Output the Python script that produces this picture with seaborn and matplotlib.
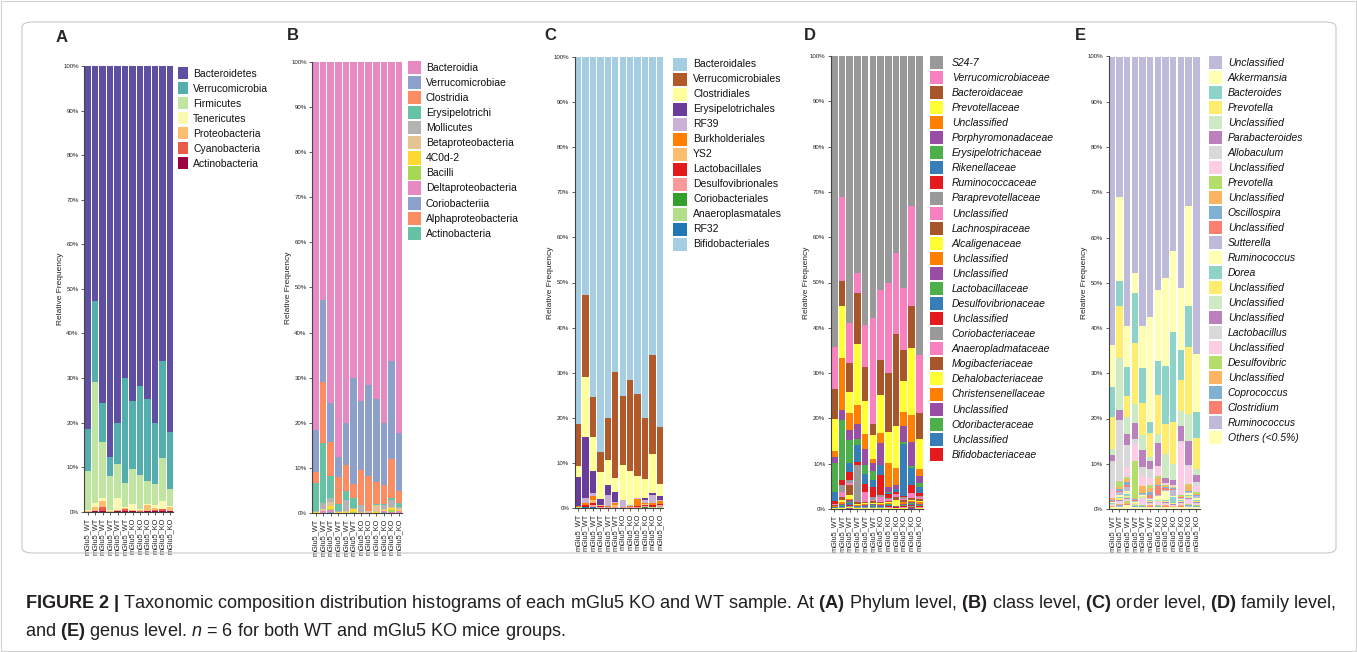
import matplotlib
matplotlib.use("Agg")
import matplotlib.pyplot as plt
from matplotlib.patches import Patch, FancyBboxPatch, Rectangle
import numpy as np
import seaborn as sns

# ---- samples -------------------------------------------------------------
sample_ids = ["WT1", "WT2", "WT3", "WT4", "WT5", "WT6",
              "KO1", "KO2", "KO3", "KO4", "KO5", "KO6"]
sample_labels = ["mGlu5_WT"] * 6 + ["mGlu5_KO"] * 6
y_ticks = [0, 10, 20, 30, 40, 50, 60, 70, 80, 90, 100]

# ---- A: phylum -----------------------------------------------------------
phylum_names = ["Bacteroidetes", "Verrucomicrobia", "Firmicutes", "Tenericutes",
                "Proteobacteria", "Cyanobacteria", "Actinobacteria"]
phylum_colors = ["#5e4fa2", "#54aead", "#bfe5a0", "#fbf8b0", "#fdbe6f", "#e95c47", "#9e0142"]
phylum_values = [
    [81.5, 52.7, 75.5, 87.7, 80.0, 70.0, 75.2, 71.7, 74.8, 80.0, 66.2, 82.1],
    [9.4, 18.3, 8.8, 4.3, 9.3, 23.5, 15.3, 20.0, 18.2, 13.8, 21.8, 12.8],
    [8.8, 27.0, 12.7, 7.7, 7.7, 5.5, 7.7, 7.8, 5.3, 4.7, 9.6, 3.9],
    [0.1, 1.0, 0.7, 0.1, 2.6, 0.2, 1.5, 0.1, 0.1, 0.6, 1.7, 0.1],
    [0.2, 0.9, 1.3, 0.2, 0.3, 0.2, 0.2, 0.35, 1.5, 0.5, 0.2, 1.0],
    [0.0, 0.05, 0.9, 0.0, 0.05, 0.5, 0.05, 0.05, 0.05, 0.2, 0.4, 0.05],
    [0.0, 0.05, 0.1, 0.0, 0.05, 0.1, 0.05, 0.0, 0.05, 0.2, 0.1, 0.05],
]

# ---- B: class ------------------------------------------------------------
class_names = ["Bacteroidia", "Verrucomicrobiae", "Clostridia", "Erysipelotrichi",
               "Mollicutes", "Betaproteobacteria", "4C0d-2", "Bacilli",
               "Deltaproteobacteria", "Coriobacteriia", "Alphaproteobacteria",
               "Actinobacteria"]
class_colors = ["#e78ac3", "#8da0cb", "#fc8d62", "#66c2a5", "#b3b3b3", "#e5c494",
                "#ffd92f", "#a6d854", "#e78ac3", "#8da0cb", "#fc8d62", "#66c2a5"]
class_values = [
    [81.5, 52.7, 75.5, 87.7, 80.0, 70.0, 75.2, 71.7, 74.8, 80.0, 66.2, 82.1],
    [9.3, 18.3, 8.8, 4.3, 9.3, 23.5, 15.3, 20.0, 18.2, 13.8, 21.8, 12.8],
    [2.6, 13.5, 7.5, 6.1, 5.7, 3.1, 7.7, 7.8, 4.9, 4.1, 8.7, 2.8],
    [6.2, 13.3, 4.9, 1.6, 2.0, 2.2, 0.05, 0.05, 0.2, 0.3, 0.3, 0.7],
    [0.1, 1.2, 0.8, 0.1, 2.6, 0.2, 1.5, 0.05, 0.1, 0.8, 1.6, 0.4],
    [0.1, 0.4, 0.8, 0.1, 0.2, 0.1, 0.1, 0.3, 1.6, 0.3, 0.2, 0.3],
    [0.05, 0.1, 0.8, 0.05, 0.1, 0.7, 0.05, 0.05, 0.1, 0.2, 0.4, 0.3],
    [0.05, 0.1, 0.1, 0.05, 0.05, 0.1, 0.05, 0.05, 0.05, 0.1, 0.6, 0.1],
    [0.05, 0.4, 0.6, 0.1, 0.05, 0.1, 0.05, 0.0, 0.05, 0.2, 0.1, 0.3],
    [0.02, 0.0, 0.1, 0.0, 0.0, 0.0, 0.0, 0.0, 0.0, 0.2, 0.1, 0.1],
    [0.02, 0.0, 0.05, 0.0, 0.0, 0.0, 0.0, 0.0, 0.0, 0.0, 0.0, 0.0],
    [0.02, 0.0, 0.05, 0.0, 0.0, 0.0, 0.0, 0.0, 0.0, 0.0, 0.0, 0.0],
]

# ---- C: order ------------------------------------------------------------
order_names = ["Bacteroidales", "Verrucomicrobiales", "Clostridiales",
               "Erysipelotrichales", "RF39", "Burkholderiales", "YS2",
               "Lactobacillales", "Desulfovibrionales", "Coriobacteriales",
               "Anaeroplasmatales", "RF32", "Bifidobacteriales"]
order_colors = ["#a6cee3", "#b15928", "#ffff99", "#6a3d9a", "#cab2d6", "#ff7f00",
                "#fdbf6f", "#e31a1c", "#fb9a99", "#33a02c", "#b2df8a", "#1f78b4",
                "#a6cee3"]
order_values = [
    [81.5, 52.7, 75.5, 87.7, 80.0, 70.0, 75.3, 71.7, 74.8, 80.1, 66.2, 82.1],
    [9.4, 18.3, 8.9, 4.4, 9.4, 23.5, 15.3, 20.1, 18.2, 13.7, 21.8, 12.8],
    [2.4, 13.4, 7.5, 6.0, 5.6, 3.2, 7.7, 7.7, 5.0, 4.1, 8.7, 2.7],
    [6.4, 13.5, 4.9, 1.4, 2.1, 2.2, 0.05, 0.05, 0.05, 0.5, 0.5, 0.7],
    [0.05, 1.1, 0.7, 0.05, 2.5, 0.1, 1.5, 0.05, 0.05, 0.6, 1.8, 0.4],
    [0.1, 0.4, 0.7, 0.05, 0.2, 0.5, 0.1, 0.3, 1.6, 0.2, 0.3, 0.5],
    [0.05, 0.1, 0.8, 0.05, 0.05, 0.4, 0.05, 0.05, 0.05, 0.3, 0.1, 0.1],
    [0.05, 0.3, 0.3, 0.2, 0.1, 0.1, 0.05, 0.05, 0.3, 0.3, 0.4, 0.2],
    [0.05, 0.1, 0.5, 0.25, 0.05, 0.1, 0.05, 0.05, 0.05, 0.2, 0.1, 0.5],
    [0.02, 0.05, 0.1, 0.0, 0.0, 0.0, 0.0, 0.0, 0.0, 0.1, 0.05, 0.05],
    [0.02, 0.05, 0.05, 0.0, 0.0, 0.0, 0.0, 0.0, 0.0, 0.0, 0.05, 0.05],
    [0.02, 0.05, 0.05, 0.0, 0.0, 0.0, 0.0, 0.0, 0.0, 0.0, 0.0, 0.0],
    [0.02, 0.0, 0.0, 0.0, 0.0, 0.0, 0.0, 0.0, 0.0, 0.0, 0.0, 0.0],
]

# ---- D: family -----------------------------------------------------------
family_names = ["S24-7", "Verrucomicrobiaceae", "Bacteroidaceae", "Prevotellaceae",
                "Unclassified", "Porphyromonadaceae", "Erysipelotrichaceae",
                "Rikenellaceae", "Ruminococcaceae", "Paraprevotellaceae",
                "Unclassified", "Lachnospiraceae", "Alcaligenaceae", "Unclassified",
                "Unclassified", "Lactobacillaceae", "Desulfovibrionaceae",
                "Unclassified", "Coriobacteriaceae", "Anaeropladmataceae",
                "Mogibacteriaceae", "Dehalobacteriaceae", "Christensenellaceae",
                "Unclassified", "Odoribacteraceae", "Unclassified",
                "Bifidobacteriaceae"]
family_colors = ["#999999", "#f781bf", "#a65628", "#ffff33", "#ff7f00", "#984ea3",
                 "#4daf4a", "#377eb8", "#e41a1c"] * 3
family_values = [
    [64.2, 31.1, 59.0, 48.0, 59.4, 57.9, 51.7, 50.4, 43.5, 51.5, 33.1, 66.3],
    [9.4, 18.5, 8.9, 4.4, 9.2, 23.4, 15.5, 20.1, 18.1, 13.8, 22.0, 12.8],
    [6.5, 5.6, 6.3, 11.2, 7.6, 2.5, 7.7, 13.0, 20.2, 6.8, 9.1, 5.8],
    [7.1, 11.4, 4.6, 13.5, 7.2, 5.4, 8.5, 6.9, 9.3, 6.9, 14.8, 6.8],
    [1.4, 11.6, 3.9, 4.1, 3.3, 0.8, 2.1, 5.5, 3.7, 3.2, 5.9, 1.4],
    [1.3, 2.1, 2.2, 3.5, 3.7, 1.9, 4.9, 1.1, 1.0, 3.4, 5.3, 1.5],
    [6.4, 13.4, 5.0, 1.3, 2.0, 2.0, 0.1, 0.05, 0.05, 0.5, 0.6, 1.0],
    [1.9, 0.05, 2.0, 3.7, 2.1, 1.5, 2.2, 0.4, 0.5, 11.5, 3.7, 1.4],
    [0.7, 1.1, 1.7, 0.7, 1.7, 2.2, 4.4, 0.9, 0.5, 0.4, 1.6, 0.6],
    [0.1, 1.5, 0.6, 8.1, 0.1, 0.6, 0.4, 0.2, 0.1, 0.3, 0.2, 0.3],
    [0.1, 1.0, 0.6, 0.1, 2.2, 0.3, 1.1, 0.3, 0.6, 0.3, 1.1, 0.4],
    [0.2, 0.7, 2.2, 0.3, 0.3, 0.3, 0.3, 0.3, 0.6, 0.3, 0.4, 0.4],
    [0.15, 0.5, 0.8, 0.2, 0.2, 0.2, 0.2, 0.2, 1.4, 0.2, 0.2, 0.3],
    [0.05, 0.4, 0.3, 0.2, 0.2, 0.2, 0.2, 0.2, 0.1, 0.3, 0.2, 0.3],
    [0.05, 0.2, 0.4, 0.1, 0.2, 0.1, 0.2, 0.1, 0.1, 0.2, 0.2, 0.2],
    [0.1, 0.2, 0.3, 0.1, 0.1, 0.2, 0.1, 0.2, 0.05, 0.2, 0.3, 0.2],
    [0.1, 0.2, 0.3, 0.1, 0.1, 0.2, 0.1, 0.2, 0.05, 0.2, 0.2, 0.2],
    [0.05, 0.1, 0.2, 0.1, 0.1, 0.1, 0.1, 0.2, 0.05, 0.1, 0.2, 0.1],
    [0.05, 0.1, 0.2, 0.1, 0.1, 0.1, 0.1, 0.1, 0.05, 0.1, 0.1, 0.1],
    [0.02, 0.1, 0.1, 0.05, 0.05, 0.1, 0.05, 0.1, 0.05, 0.1, 0.1, 0.1],
    [0.03, 0.05, 0.1, 0.05, 0.05, 0.05, 0.05, 0.1, 0.05, 0.1, 0.1, 0.1],
    [0.03, 0.05, 0.1, 0.05, 0.05, 0.05, 0.05, 0.05, 0.05, 0.05, 0.1, 0.05],
    [0.03, 0.05, 0.1, 0.05, 0.05, 0.05, 0.05, 0.05, 0.05, 0.05, 0.1, 0.05],
    [0.02, 0.02, 0.05, 0.02, 0.02, 0.02, 0.02, 0.02, 0.02, 0.02, 0.05, 0.02],
    [0.02, 0.02, 0.05, 0.02, 0.02, 0.02, 0.02, 0.02, 0.02, 0.02, 0.05, 0.02],
    [0.01, 0.01, 0.02, 0.01, 0.01, 0.01, 0.01, 0.01, 0.01, 0.01, 0.02, 0.01],
    [0.01, 0.01, 0.02, 0.01, 0.01, 0.01, 0.01, 0.01, 0.01, 0.01, 0.01, 0.01],
]

# ---- E: genus ------------------------------------------------------------
genus_names = ["Unclassified", "Akkermansia", "Bacteroides", "Prevotella",
               "Unclassified", "Parabacteroides", "Allobaculum", "Unclassified",
               "Prevotella", "Unclassified", "Oscillospira", "Unclassified",
               "Sutterella", "Ruminococcus", "Dorea", "Unclassified", "Unclassified",
               "Unclassified", "Lactobacillus", "Unclassified", "Desulfovibric",
               "Unclassified", "Coprococcus", "Clostridium", "Ruminococcus",
               "Others (<0.5%)"]
genus_colors = ["#bebada", "#ffffb3", "#8dd3c7", "#ffed6f", "#ccebc5", "#bc80bd",
                "#d9d9d9", "#fccde5", "#b3de69", "#fdb462", "#80b1d3", "#fb8072"] * 2 \
               + ["#bebada", "#ffffb3"]
genus_values = [
    [64.2, 31.1, 59.0, 48.0, 59.4, 57.9, 51.7, 50.4, 43.5, 51.5, 33.1, 66.3],
    [9.4, 18.5, 8.9, 4.4, 9.2, 23.4, 15.5, 20.1, 18.1, 13.8, 22.0, 12.8],
    [6.5, 5.6, 6.3, 11.2, 7.6, 2.5, 7.7, 13.0, 20.2, 6.8, 9.1, 5.8],
    [7.1, 11.4, 4.6, 13.5, 7.2, 5.4, 8.5, 6.9, 9.3, 6.9, 14.8, 6.8],
    [1.4, 11.6, 3.9, 4.1, 3.3, 0.8, 2.1, 5.5, 3.7, 3.2, 5.9, 1.4],
    [1.3, 2.1, 2.2, 3.5, 3.7, 1.9, 4.9, 1.1, 1.0, 3.4, 5.3, 1.5],
    [6.4, 13.4, 5.0, 1.3, 2.0, 2.0, 0.1, 0.05, 0.05, 0.5, 0.6, 1.0],
    [1.9, 0.05, 2.0, 3.7, 2.1, 1.5, 2.2, 0.4, 0.5, 11.5, 3.7, 1.4],
    [0.1, 1.5, 0.6, 8.1, 0.1, 0.6, 0.4, 0.2, 0.1, 0.3, 0.2, 0.3],
    [0.3, 0.4, 0.7, 0.3, 1.5, 1.0, 1.6, 0.3, 0.2, 0.2, 1.4, 0.2],
    [0.2, 0.5, 0.5, 0.2, 0.1, 0.6, 0.3, 0.3, 0.2, 0.1, 0.1, 0.2],
    [0.2, 0.2, 0.5, 0.2, 0.1, 0.6, 2.0, 0.3, 0.1, 0.1, 0.1, 0.2],
    [0.15, 0.5, 0.8, 0.2, 0.2, 0.2, 0.2, 0.2, 1.4, 0.2, 0.2, 0.3],
    [0.2, 0.5, 0.8, 0.2, 0.2, 0.3, 0.5, 2.2, 0.3, 0.3, 0.4, 0.4],
    [0.1, 0.3, 0.3, 0.1, 0.1, 0.2, 0.2, 0.2, 1.2, 0.2, 0.2, 0.3],
    [0.1, 0.3, 0.3, 0.1, 0.2, 0.2, 0.2, 0.2, 0.2, 0.2, 0.3, 0.2],
    [0.1, 0.2, 0.2, 0.1, 0.1, 0.1, 0.1, 0.1, 0.1, 0.1, 0.2, 0.1],
    [0.1, 0.2, 0.2, 0.1, 0.1, 0.1, 0.1, 0.1, 0.1, 0.1, 0.2, 0.1],
    [0.1, 0.2, 0.3, 0.1, 0.1, 0.2, 0.1, 0.2, 0.05, 0.2, 0.3, 0.2],
    [0.1, 0.3, 0.2, 0.1, 1.5, 0.2, 0.8, 0.2, 0.3, 0.2, 0.8, 0.3],
    [0.1, 0.2, 0.3, 0.1, 0.1, 0.2, 0.1, 0.2, 0.05, 0.2, 0.2, 0.2],
    [0.05, 0.1, 0.2, 0.1, 0.1, 0.1, 0.1, 0.1, 0.05, 0.1, 0.1, 0.1],
    [0.05, 0.2, 0.2, 0.1, 0.1, 0.1, 0.1, 0.1, 0.05, 0.1, 0.1, 0.1],
    [0.05, 0.1, 0.1, 0.05, 0.05, 0.1, 0.05, 0.1, 0.05, 0.1, 0.1, 0.05],
    [0.05, 0.1, 0.1, 0.05, 0.05, 0.1, 0.05, 0.1, 0.05, 0.1, 0.1, 0.05],
    [0.4, 0.5, 0.8, 0.4, 0.4, 0.4, 0.4, 0.4, 0.4, 0.4, 0.5, 0.4],
]

W, H = 1357, 652

sns.set_style("ticks")
plt.rcParams["font.family"] = ["Liberation Sans", "DejaVu Sans"]
plt.rcParams["mathtext.fontset"] = "custom"
plt.rcParams["mathtext.rm"] = "Liberation Sans"
plt.rcParams["mathtext.it"] = "Liberation Sans:italic"
plt.rcParams["mathtext.bf"] = "Liberation Sans:bold"

fig = plt.figure(figsize=(W / 100, H / 100), dpi=100)
fig.patch.set_facecolor("white")

LEG_FS = 7.5               # legend font size, pt
LEG_FS_PX = LEG_FS * 100 / 72


def px_rect(left, top, right, bottom):
    return [left / W, 1 - bottom / H, (right - left) / W, (bottom - top) / H]


def draw_panel(rect, names, colors, values, letter, letter_xy, leg_xy,
               patch_w, patch_h, pitch, text_gap, italic):
    ax = fig.add_axes(px_rect(*rect))
    vals = np.array(values, dtype=float)
    vals = vals / vals.sum(axis=0) * 100  # relative frequency
    # top edge of each taxon in the stack (first taxon sits on top)
    tops = vals[::-1].cumsum(axis=0)[::-1]
    for i in range(len(names)):
        sns.barplot(x=sample_ids, y=tops[i], order=sample_ids, color=colors[i],
                    saturation=1, width=0.86, linewidth=0, edgecolor="none",
                    errorbar=None, ax=ax)
    ax.set_xlim(-0.43, len(sample_ids) - 0.57)
    ax.set_ylim(0, 100)
    ax.set_yticks(y_ticks)
    ax.set_yticklabels([f"{v}%" for v in y_ticks], fontsize=4.4, color="#222222")
    ax.set_xticks(range(len(sample_ids)))
    ax.set_xticklabels(sample_labels, rotation=90, fontsize=5.3, color="#222222")
    ax.tick_params(axis="both", length=2.5, width=0.6, pad=1.5, color="#444444")
    ax.set_xlabel("")
    ax.set_ylabel("Relative Frequency", fontsize=6, color="#222222")
    width_px = rect[2] - rect[0]
    ax.yaxis.set_label_coords(-20.5 / width_px, 0.5)
    for s in ["top", "right"]:
        ax.spines[s].set_visible(False)
    for s in ["left", "bottom"]:
        ax.spines[s].set_color("#444444")
        ax.spines[s].set_linewidth(0.8)
    ax.grid(False)

    # legend patch geometry (matplotlib trims a descent off the handle box)
    hh = (patch_h / LEG_FS_PX - 0.245) / 0.65
    handles = [Patch(facecolor=c, edgecolor="none") for c in colors]
    leg = ax.legend(handles, names, loc="upper left",
                    bbox_to_anchor=(leg_xy[0] / W, 1 - leg_xy[1] / H),
                    bbox_transform=fig.transFigure, frameon=False,
                    fontsize=LEG_FS, borderpad=0, borderaxespad=0,
                    handlelength=patch_w / LEG_FS_PX, handleheight=hh,
                    handletextpad=text_gap / LEG_FS_PX,
                    labelspacing=(pitch - patch_h) / LEG_FS_PX)
    for t in leg.get_texts():
        t.set_color("#111111")
        if italic:
            t.set_fontstyle("italic")

    fig.text(letter_xy[0] / W, 1 - letter_xy[1] / H, letter, fontsize=12,
             fontweight="bold", ha="center", va="center")
    return ax


draw_panel((84.3, 66.0, 173.3, 511.7), phylum_names, phylum_colors, phylum_values,
           "A", (62, 38), (178.3, 67.3), 10, 12, 15.0, 5.0, False)
draw_panel((312.3, 61.7, 402.3, 513.3), class_names, class_colors, class_values,
           "B", (293, 36), (407.7, 60.6), 13.3, 13.3, 15.1, 5.0, False)
draw_panel((574.7, 57.3, 663.3, 507.7), order_names, order_colors, order_values,
           "C", (550, 35), (673, 57.5), 14, 13, 15.0, 6.0, False)
draw_panel((831.0, 56.0, 922.5, 509.0), family_names, family_colors, family_values,
           "D", (810, 35), (930, 55.8), 13.3, 13, 15.08, 8.5, True)
draw_panel((1108.5, 56.5, 1199.5, 509.0), genus_names, genus_colors, genus_values,
           "E", (1080, 35), (1209, 55.8), 13.3, 13, 15.0, 5.5, True)

# panel frame and outer page border
frame = FancyBboxPatch((22 / W, 1 - 553 / H), (1336 - 22) / W, (553 - 22) / H,
                       boxstyle="round,pad=0,rounding_size=0.008",
                       transform=fig.transFigure, facecolor="none",
                       edgecolor="#c8c8c8", linewidth=0.8)
fig.patches.append(frame)
border = Rectangle((0.8 / W, 0.8 / H), (W - 2.3) / W, (H - 1.6) / H,
                   transform=fig.transFigure, facecolor="none",
                   edgecolor="#d2d2d2", linewidth=0.8)
fig.patches.append(border)

# caption
line1 = (r"$\mathbf{FIGURE\ 2\ |}$ Taxonomic composition distribution histograms of each "
         r"mGlu5 KO and WT sample. At $\mathbf{(A)}$ Phylum level, $\mathbf{(B)}$ class "
         r"level, $\mathbf{(C)}$ order level, $\mathbf{(D)}$ family level,")
line2 = (r"and $\mathbf{(E)}$ genus level. $\mathit{n}$ = 6 for both WT and mGlu5 KO "
         r"mice groups.")
fig.text(25 / W, 1 - 603 / H, line1, fontsize=13.05, color="#231f20", ha="left", va="center")
fig.text(25 / W, 1 - 631 / H, line2, fontsize=13.05, color="#231f20", ha="left", va="center")

fig.savefig("out.png", dpi=100, facecolor="white")
